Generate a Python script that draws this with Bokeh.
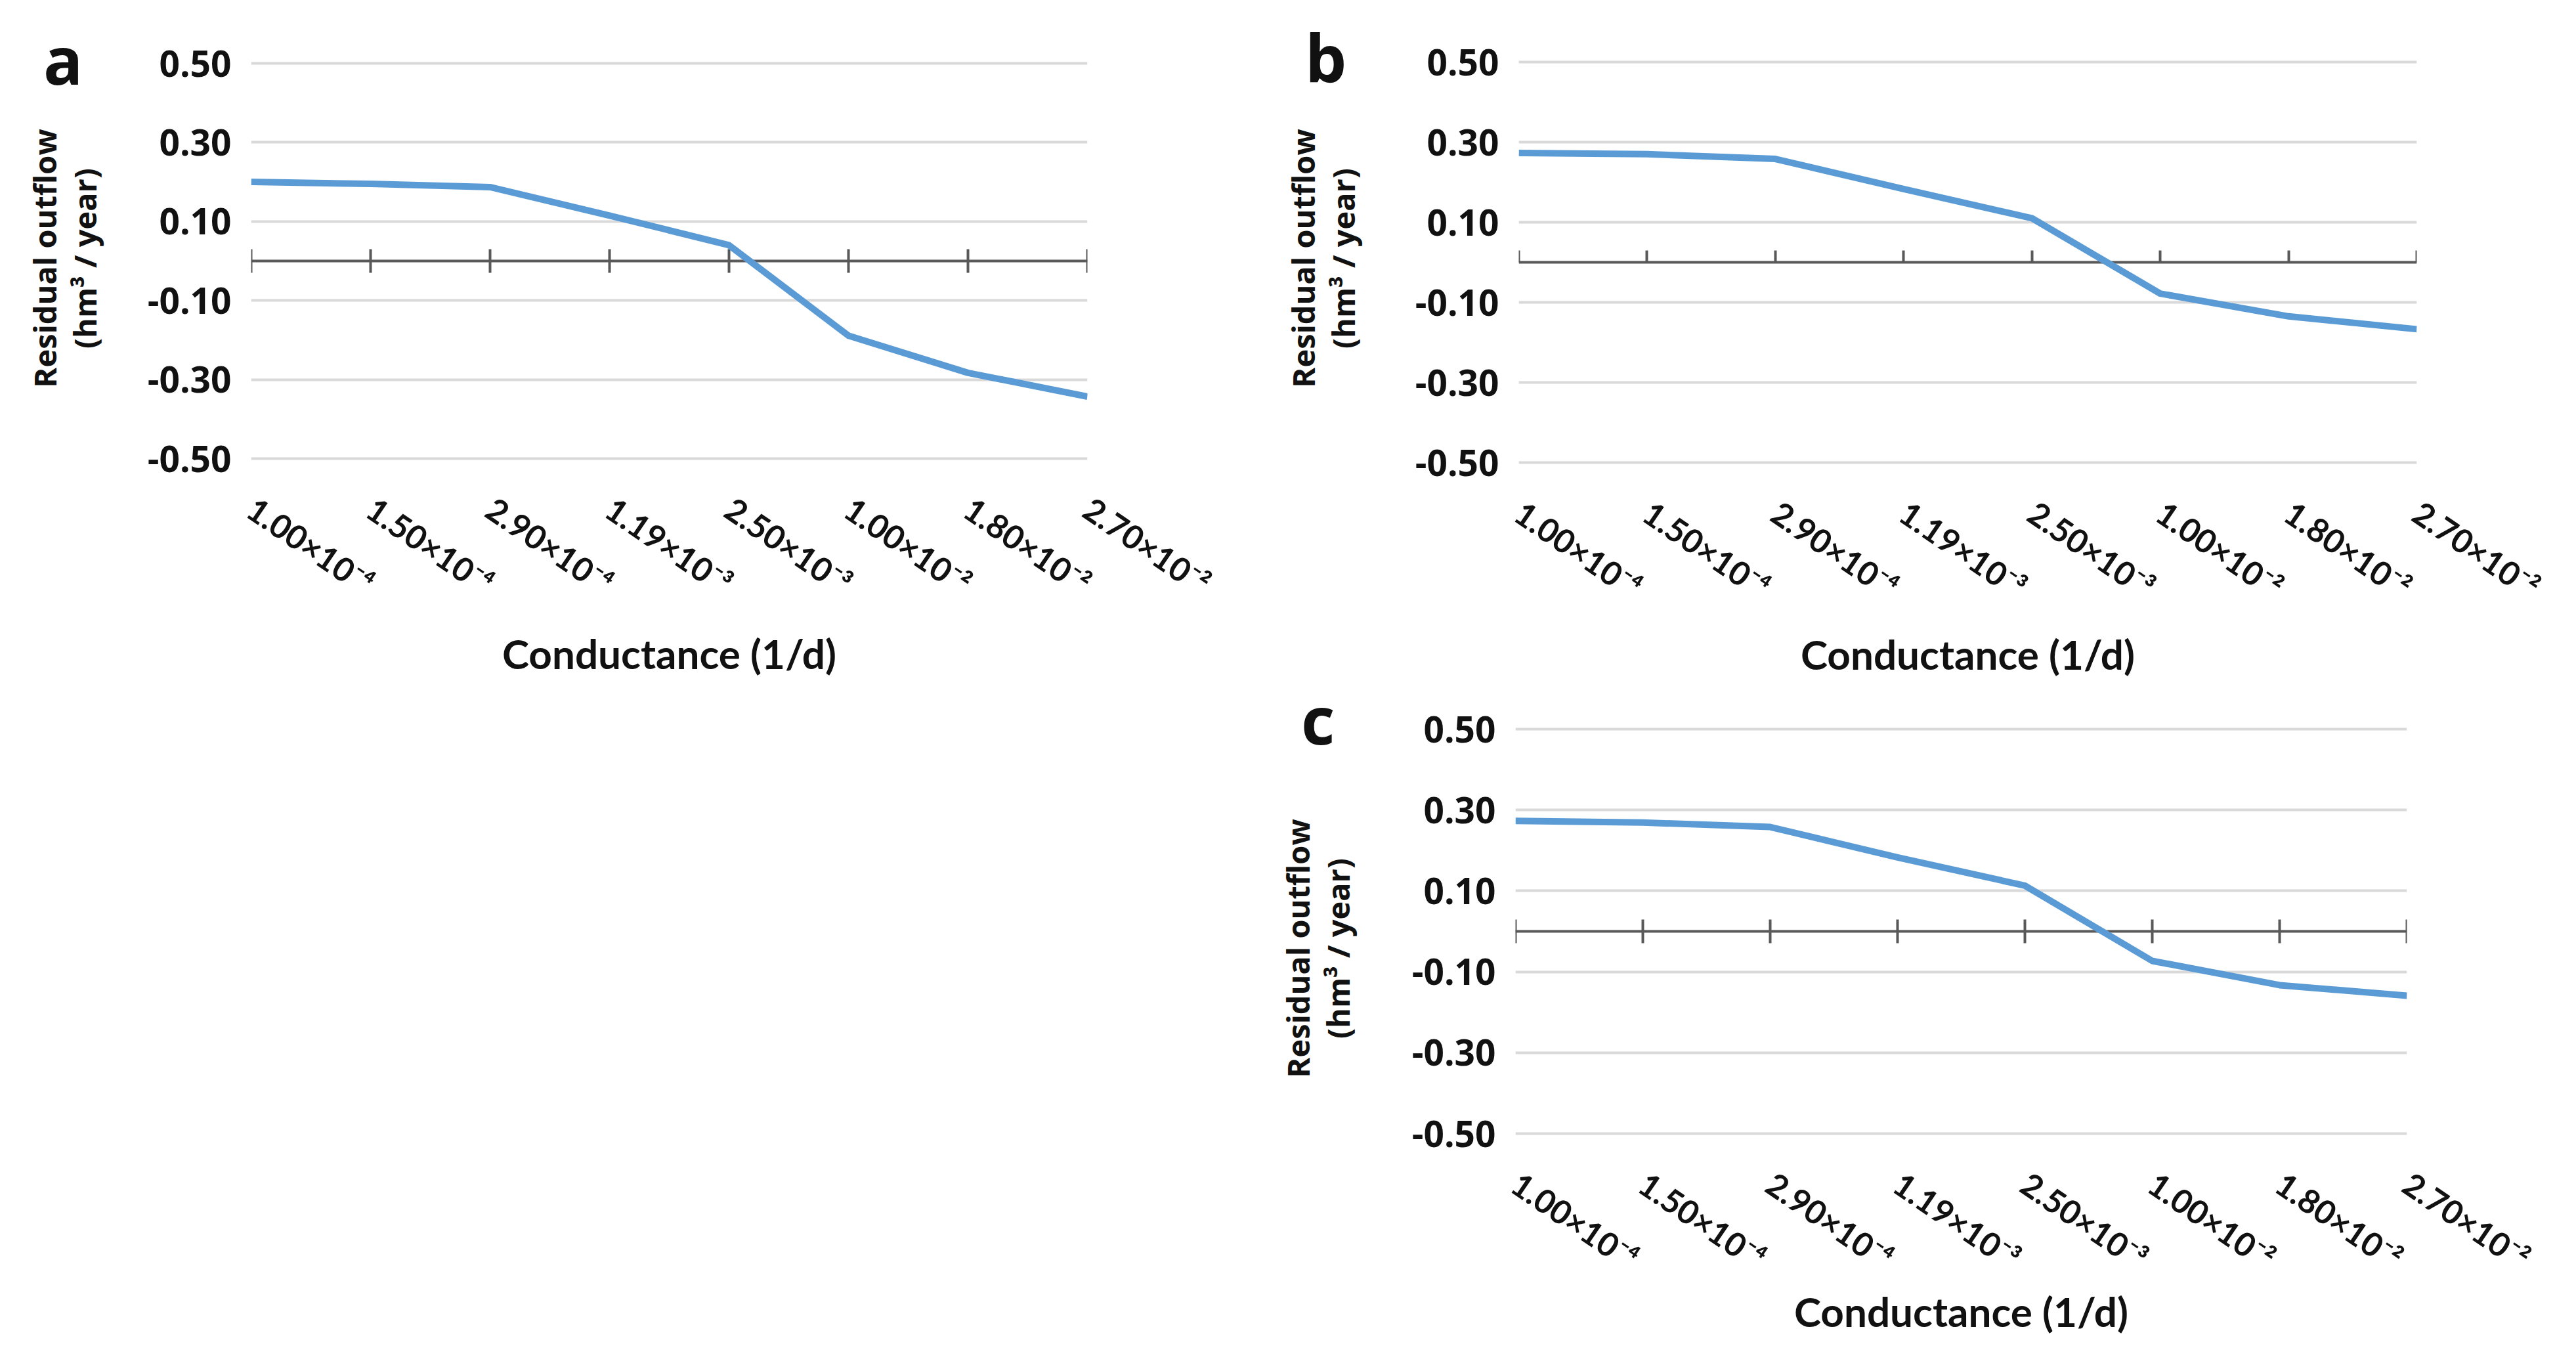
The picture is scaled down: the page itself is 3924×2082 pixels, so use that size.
import numpy as np
from bokeh.plotting import figure
from bokeh.models import (Range1d, FixedTicker, LinearAxis, Spacer, Div,
                          NumeralTickFormatter)
from bokeh.layouts import column, row
from bokeh.embed import file_html
from bokeh.resources import INLINE

# ---------------- data ----------------
conductance_labels = ["1.00×10⁻⁴", "1.50×10⁻⁴", "2.90×10⁻⁴", "1.19×10⁻³",
                      "2.50×10⁻³", "1.00×10⁻²", "1.80×10⁻²", "2.70×10⁻²"]
residual_a = [0.200, 0.195, 0.187, 0.115, 0.040, -0.189, -0.283, -0.343]
residual_b = [0.273, 0.270, 0.258, 0.183, 0.110, -0.078, -0.135, -0.167]
residual_c = [0.273, 0.269, 0.258, 0.183, 0.113, -0.073, -0.133, -0.159]
y_ticks = [-0.5, -0.3, -0.1, 0.1, 0.3, 0.5]
panel_letters = ["a", "b", "c"]
y_title = "Residual outflow\n(hm³ / year)"
x_title = "Conductance (1/d)"

BLUE = "#5b9bd5"
GRID = "#d9d9d9"
AXIS = "#595959"
TEXT = "#111111"


def make_panel(values, w, h, fl, fr, ft, fb, g_top, g_bot,
               tick_in, tick_out, xlab_standoff, xtitle_standoff,
               ytitle_standoff):
    n = len(conductance_labels)
    s = (g_bot - g_top) / 1.0           # px per data unit
    top_v = 0.5 + (g_top - ft) / s
    bot_v = -0.5 - (fb - g_bot) / s
    p = figure(width=w, height=h, x_range=Range1d(0, n - 1),
               y_range=Range1d(bot_v, top_v), title_location=None,
               output_backend="svg", toolbar_location=None,
               min_border_left=fl, min_border_right=w - fr,
               min_border_top=ft, min_border_bottom=h - fb)
    p.outline_line_color = None
    p.background_fill_color = "white"
    p.border_fill_color = "white"
    p.xgrid.visible = False
    p.ygrid.ticker = FixedTicker(ticks=y_ticks)
    p.ygrid.grid_line_color = GRID
    p.ygrid.grid_line_width = 4

    # y axis
    ya = p.yaxis[0]
    ya.ticker = FixedTicker(ticks=y_ticks)
    ya.formatter = NumeralTickFormatter(format="0.00")
    ya.axis_line_color = None
    ya.major_tick_line_color = None
    ya.minor_tick_line_color = None
    ya.major_tick_in = 0
    ya.major_tick_out = 0
    ya.major_label_standoff = 30
    ya.major_label_text_font = "Open Sans"
    ya.major_label_text_font_style = "bold"
    ya.major_label_text_font_size = "55px"
    ya.major_label_text_color = TEXT
    ya.axis_label = y_title
    ya.axis_label_text_font = "Open Sans"
    ya.axis_label_text_font_style = "bold"
    ya.axis_label_text_font_size = "47px"
    ya.axis_label_text_line_height = 0.95
    ya.axis_label_text_color = TEXT
    ya.axis_label_standoff = ytitle_standoff

    # x axis (labels only, at bottom)
    xa = p.xaxis[0]
    xa.ticker = FixedTicker(ticks=list(range(n)))
    xa.major_label_overrides = {i: lab for i, lab in enumerate(conductance_labels)}
    xa.axis_line_color = None
    xa.major_tick_line_color = None
    xa.minor_tick_line_color = None
    xa.major_tick_in = 0
    xa.major_tick_out = 0
    xa.major_label_orientation = -0.6
    xa.major_label_standoff = xlab_standoff
    xa.major_label_text_font = "Lato"
    xa.major_label_text_font_style = "bold"
    xa.major_label_text_font_size = "50px"
    xa.major_label_text_color = TEXT
    xa.axis_label = x_title
    xa.axis_label_text_font = "Lato"
    xa.axis_label_text_font_style = "bold"
    xa.axis_label_text_font_size = "62px"
    xa.axis_label_text_color = TEXT
    xa.axis_label_standoff = xtitle_standoff

    # zero axis with tick marks (placed at y = 0, its panel space is taken above)
    za = LinearAxis(fixed_location=0, ticker=FixedTicker(ticks=list(range(n))),
                    axis_line_color=AXIS, axis_line_width=4,
                    major_tick_line_color=AXIS, major_tick_line_width=4,
                    major_tick_in=tick_in, major_tick_out=tick_out,
                    minor_tick_line_color=None, major_label_text_color=None,
                    major_label_text_font_size="1px", major_label_standoff=0)
    za.level = "underlay"
    p.add_layout(za, "above")

    xs = np.arange(n)
    p.line(x=xs, y=values, line_color=BLUE, line_width=10, line_join="round")
    return p


def letter_div(letter, left, top):
    return Div(text=letter, width=120, height=110,
               styles={"position": "fixed", "left": f"{left}px", "top": f"{top}px",
                       "font-family": "Open Sans", "font-weight": "bold",
                       "font-size": "100px", "line-height": "1",
                       "color": TEXT, "margin": "0", "padding": "0",
                       "z-index": "10"})


WA, WB = 1900, 2000
H1, H2 = 1045, 1021

# row 1 plots share frame top / bottom (Bokeh aligns them in a row)
pa = make_panel(residual_a, WA, H1, fl=382, fr=1656, ft=40, fb=746,
                g_top=96, g_bot=698, tick_in=18, tick_out=18,
                xlab_standoff=23, xtitle_standoff=12, ytitle_standoff=61)
pb = make_panel(residual_b, WB, H1, fl=413, fr=1781, ft=40, fb=746,
                g_top=94, g_bot=704, tick_in=0, tick_out=18,
                xlab_standoff=29, xtitle_standoff=7, ytitle_standoff=75)
pc = make_panel(residual_c, WB, H2, fl=408, fr=1766, ft=50, fb=748,
                g_top=65, g_bot=681, tick_in=18, tick_out=18,
                xlab_standoff=4, xtitle_standoff=-14, ytitle_standoff=78)

letters = [letter_div(panel_letters[0], 66, 40),
           letter_div(panel_letters[1], 1988, 37),
           letter_div(panel_letters[2], 1982, 1045)]

layout = column(row(pa, pb), row(Spacer(width=WA, height=H2), pc), *letters)

open("out.html", "w").write(file_html(layout, INLINE))
